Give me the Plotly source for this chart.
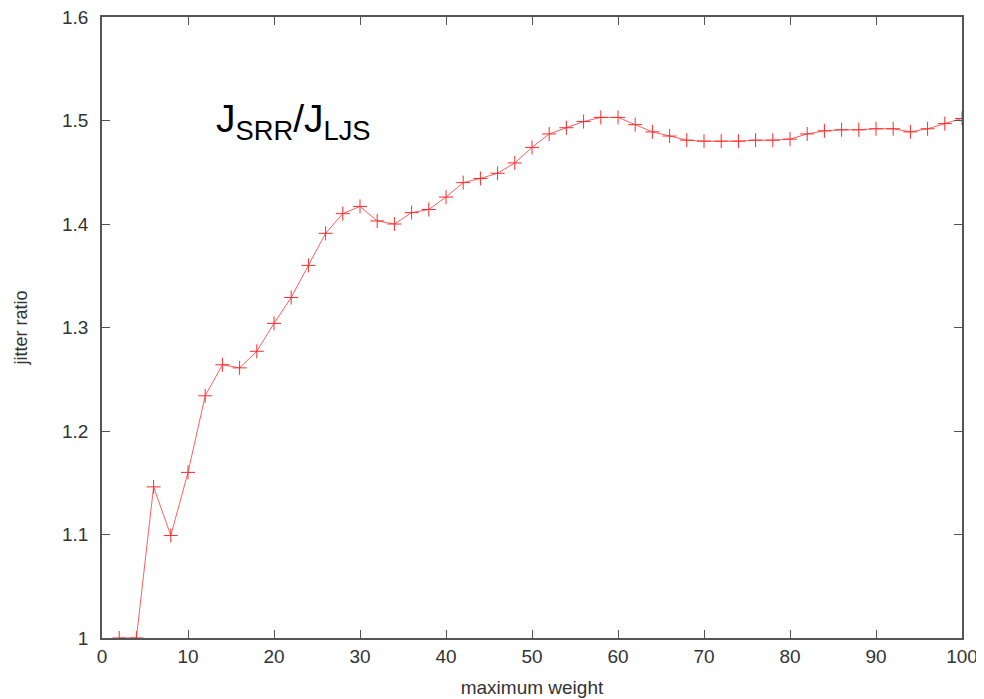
import plotly.graph_objects as go

max_weight = list(range(2, 101, 2))
jitter_ratio = [
    1.000, 1.000, 1.146, 1.099, 1.160, 1.234, 1.264, 1.261, 1.277, 1.304,
    1.329, 1.360, 1.391, 1.410, 1.417, 1.403, 1.400, 1.411, 1.414, 1.426,
    1.440, 1.444, 1.449, 1.459, 1.474, 1.487, 1.493, 1.499, 1.503, 1.503,
    1.496, 1.489, 1.485, 1.481, 1.480, 1.480, 1.480, 1.481, 1.481, 1.482,
    1.487, 1.490, 1.491, 1.491, 1.492, 1.492, 1.489, 1.492, 1.497, 1.502,
]
x_ticks = list(range(0, 101, 10))
y_ticks = [1.0, 1.1, 1.2, 1.3, 1.4, 1.5, 1.6]
y_tick_labels = ["1", "1.1", "1.2", "1.3", "1.4", "1.5", "1.6"]

FONT = "Liberation Sans, Arial, sans-serif"

fig = go.Figure()
fig.add_trace(go.Scatter(
    x=max_weight, y=jitter_ratio, mode="lines+markers",
    line=dict(color="#ff6060", width=1),
    marker=dict(symbol="cross-thin-open", size=10, color="#ff2a2a",
                line=dict(color="#ff2a2a", width=1)),
    showlegend=False,
))

axis_common = dict(
    showline=True, linecolor="#555555", linewidth=1.6, mirror="ticks",
    ticks="inside", ticklen=8, tickwidth=1.2, tickcolor="#555555",
    showgrid=False, zeroline=False, automargin=False,
    ticklabeloverflow="allow",
    tickfont=dict(family=FONT, size=19, color="#333333"),
)

fig.update_xaxes(range=[0, 100], tickvals=x_ticks,
                 title=dict(text="maximum weight", standoff=15,
                            font=dict(family=FONT, size=19, color="#333333")),
                 **axis_common)
fig.update_yaxes(range=[1.0, 1.6], tickvals=y_ticks, ticktext=y_tick_labels,
                 ticklabelstandoff=8,
                 title=dict(text="jitter ratio", standoff=30,
                            font=dict(family=FONT, size=18, color="#333333")),
                 **axis_common)

fig.add_annotation(
    x=13, y=1.499, xref="x", yref="y", xanchor="left", yanchor="middle",
    text="J<sub>SRR</sub>/J<sub>LJS</sub>", showarrow=False,
    font=dict(family=FONT, size=39, color="#000000"),
)

# page body has an 8px default margin; compensate so the plot area lands
# where the reference has it
fig.update_layout(
    width=976, height=691,
    margin=dict(l=94, r=22, t=9, b=61),
    plot_bgcolor="white", paper_bgcolor="white",
)

fig.write_html("out.html")
